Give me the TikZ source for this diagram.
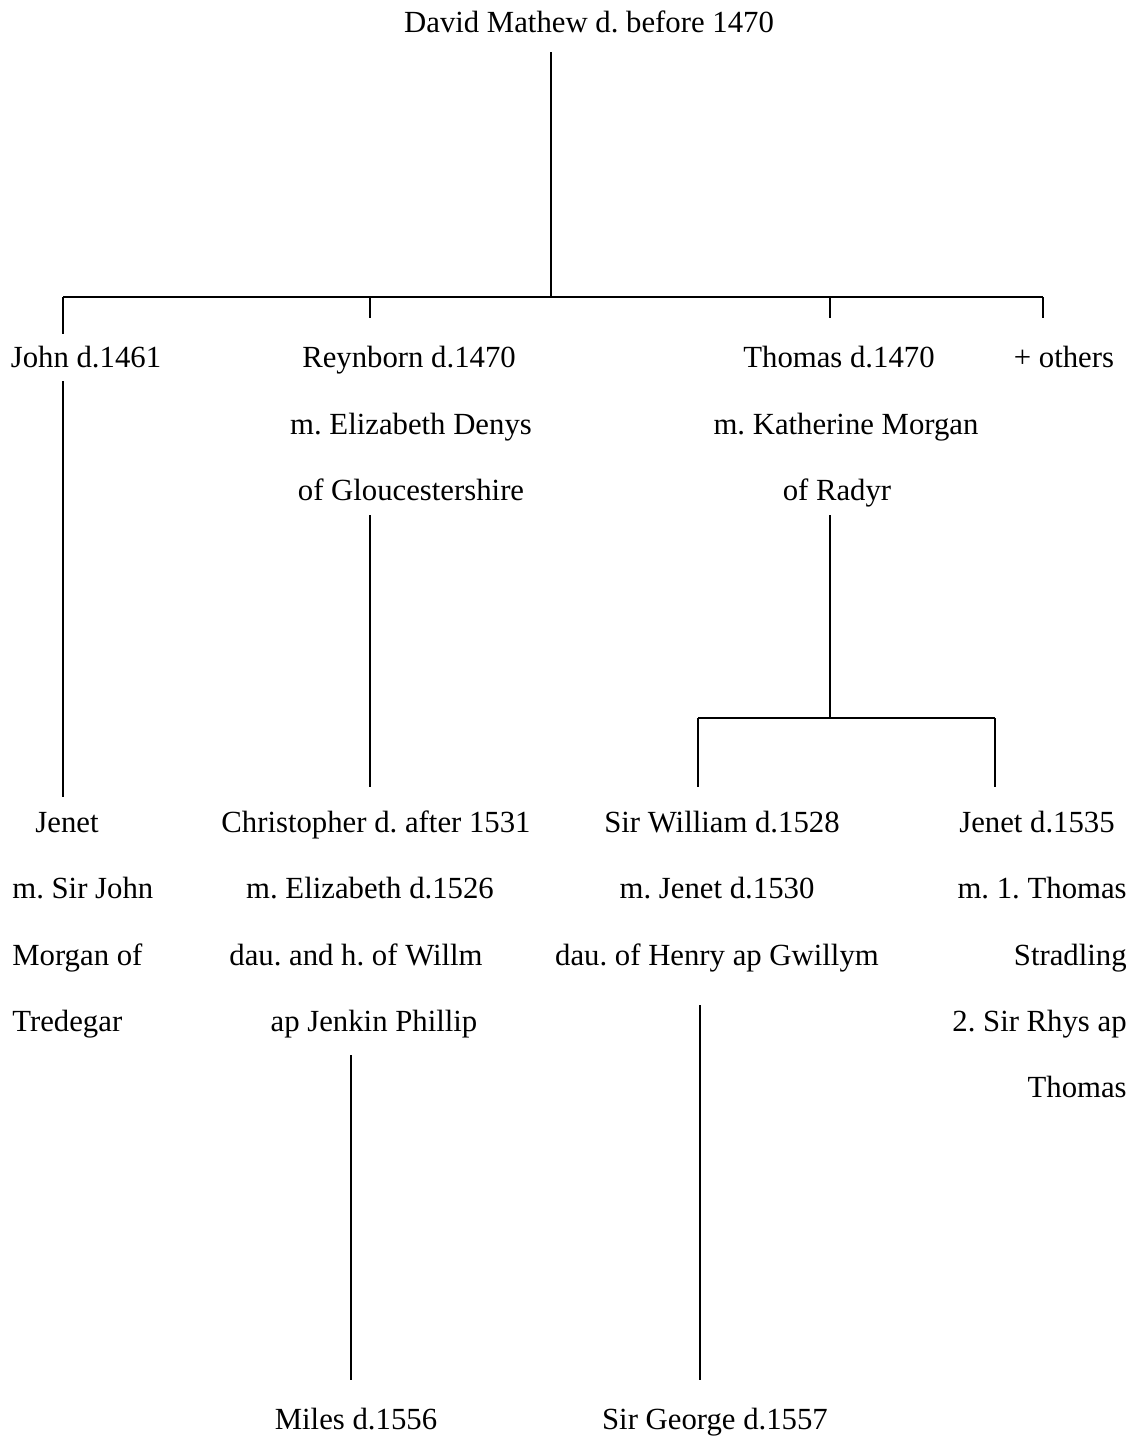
\documentclass[tikz,border=0pt]{standalone}
\usepackage{fontspec}
\setmainfont{Liberation Serif}
\frenchspacing
\usetikzlibrary{positioning,calc}

\begin{document}
\begin{tikzpicture}[
    x=0.02cm, y=-0.02cm,
    person/.style={
      inner sep=0pt, anchor=base,
      font=\fontsize{17.5}{21}\selectfont
    },
    line/.style={line width=1.2pt, black}
  ]

  \useasboundingbox (0,0) rectangle (1133,1437);

  %% Generation 1
  \node[person] (david) at (589,32) {David Mathew d. before 1470};

  %% Generation 2
  \node[person] (john)   at (86,367)   {John d.1461};
  \node[person] (reyn)   at (409,367)  {Reynborn d.1470};
  \node[person] (reynA)  at (411,434)  {m. Elizabeth Denys};
  \node[person] (reynB)  at (411,500)  {of Gloucestershire};
  \node[person] (thom)   at (839,367)  {Thomas d.1470};
  \node[person] (thomA)  at (846,434)  {m. Katherine Morgan};
  \node[person] (thomB)  at (837,500)  {of Radyr};
  \node[person] (others) at (1064,367) {+ others};

  %% Generation 3
  \node[person] (jenet)  at (67,832) {Jenet};
  \node[person, anchor=base west] (jenetA) at (12,898)  {m. Sir John};
  \node[person, anchor=base west] (jenetB) at (12,965)  {Morgan of};
  \node[person, anchor=base west] (jenetC) at (12,1031) {Tredegar};

  \node[person] (chris)  at (376,832)  {Christopher d. after 1531};
  \node[person] (chrisA) at (370,898)  {m. Elizabeth d.1526};
  \node[person] (chrisB) at (356,965)  {dau. and h. of Willm};
  \node[person] (chrisC) at (374,1031) {ap Jenkin Phillip};

  \node[person] (will)   at (722,832) {Sir William d.1528};
  \node[person] (willA)  at (717,898) {m. Jenet d.1530};
  \node[person] (willB)  at (717,965) {dau. of Henry ap Gwillym};

  \node[person] (jen)    at (1037,832) {Jenet d.1535};
  \node[person, anchor=base east] (jenA) at (1127,898)  {m. 1. Thomas};
  \node[person, anchor=base east] (jenB) at (1127,965)  {Stradling};
  \node[person, anchor=base east] (jenC) at (1127,1031) {2. Sir Rhys ap};
  \node[person, anchor=base east] (jenD) at (1127,1097) {Thomas};

  %% Generation 4
  \node[person] (miles)  at (356,1429) {Miles d.1556};
  \node[person] (george) at (715,1429) {Sir George d.1557};

  %% Line ends
  \coordinate (davidFoot) at (551,52);
  \coordinate (forkTop)   at (551,297);
  \coordinate (forkW)     at (63,297);
  \coordinate (forkE)     at (1043,297);
  \coordinate (tickJohn)  at (63,334);
  \coordinate (tickReyn)  at (370,297);
  \coordinate (tickReynB) at (370,318);
  \coordinate (tickThom)  at (830,297);
  \coordinate (tickThomB) at (830,318);
  \coordinate (tickOther) at (1043,318);

  \coordinate (johnTop)   at (63,381);
  \coordinate (johnFoot)  at (63,797);
  \coordinate (reynTop)   at (370,515);
  \coordinate (reynFoot)  at (370,787);
  \coordinate (thomTop)   at (830,515);
  \coordinate (thomFork)  at (830,718);
  \coordinate (thomW)     at (698,718);
  \coordinate (thomE)     at (995,718);
  \coordinate (willTop)   at (698,787);
  \coordinate (jenTop)    at (995,787);

  \coordinate (chrisFoot) at (351,1055);
  \coordinate (milesTop)  at (351,1380);
  \coordinate (willFoot)  at (700,1005);
  \coordinate (georgeTop) at (700,1380);

  %% Connectors
  \draw[line] (davidFoot) -- (forkTop);
  \draw[line] (forkW) -- (forkE);
  \draw[line] (forkW) -- (tickJohn);
  \draw[line] (tickReyn) -- (tickReynB);
  \draw[line] (tickThom) -- (tickThomB);
  \draw[line] (forkE) -- (tickOther);

  \draw[line] (johnTop) -- (johnFoot);
  \draw[line] (reynTop) -- (reynFoot);
  \draw[line] (thomTop) -- (thomFork);
  \draw[line] (thomW) -- (thomE);
  \draw[line] (thomW) -- (willTop);
  \draw[line] (thomE) -- (jenTop);

  \draw[line] (chrisFoot) -- (milesTop);
  \draw[line] (willFoot) -- (georgeTop);

\end{tikzpicture}
\end{document}
